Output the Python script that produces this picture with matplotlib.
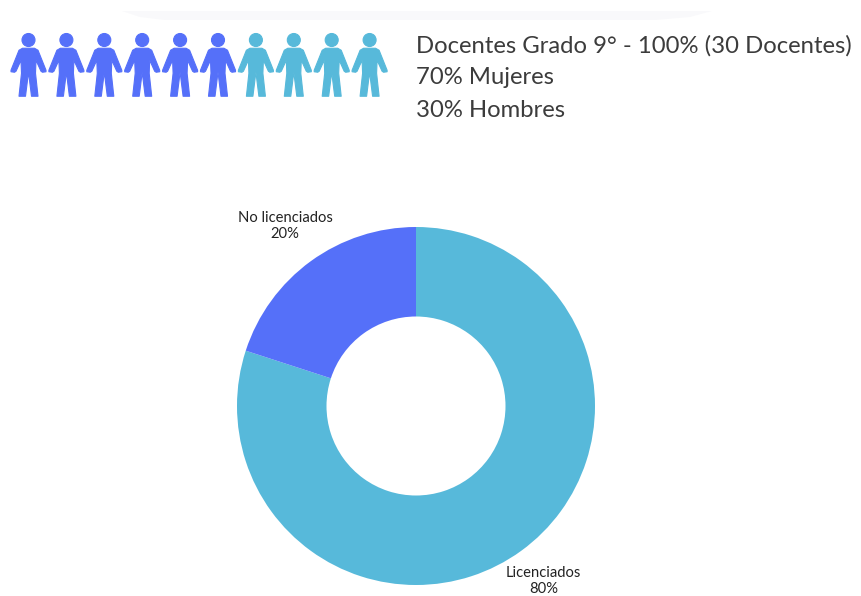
import matplotlib
matplotlib.use("Agg")
import matplotlib.pyplot as plt
import numpy as np
from matplotlib.path import Path

categorias = ["Licenciados", "No licenciados"]
porcentajes = [80, 20]
iconos_azules = 6
iconos_celestes = 4
lineas = ["Docentes Grado 9° - 100% (30 Docentes)", "70% Mujeres", "30% Hombres"]

azul = "#5570F9"
celeste = "#57B9DA"
plt.rcParams["font.family"] = ["Lato", "DejaVu Sans"]

fig = plt.figure(figsize=(8.62, 5.96), dpi=100)

# capa de fondo en pixeles
ax = fig.add_axes([0, 0, 1, 1])
ax.set_xlim(0, 862)
ax.set_ylim(596, 0)
ax.axis("off")

# franja tenue arriba
ax.fill([122, 712, 690, 655, 165, 140], [11, 11, 17, 20, 20, 17], color="#F9F9FB", lw=0)

# figura de persona, origen al centro, y hacia arriba
cuerpo = np.array([
    (-6, 17), (6, 17), (9.5, 15), (17.5, -5), (17.5, -6.5), (14, -7), (12.5, -6),
    (7.5, 5), (7, -8), (9.5, -31), (3, -31), (0, -7), (-3, -31), (-9.5, -31),
    (-7, -8), (-7.5, 5), (-12.5, -6), (-14, -7), (-17.5, -6.5), (-17.5, -5), (-9.5, 15), (-6, 17),
])
cabeza = Path.circle((0, 25.25), 6.5)
persona = Path.make_compound_path(cabeza, Path(cuerpo, closed=True))

n = iconos_azules + iconos_celestes
xs = 28.5 + 37.9 * np.arange(n)
colores = [azul] * iconos_azules + [celeste] * iconos_celestes
ax.scatter(xs, [65.25] * n, marker=persona, s=2090, c=colores, edgecolors=colores, linewidths=0.8)

for i, linea in enumerate(lineas):
    ax.text(416, 45.5 + i * 32.5, linea, fontsize=17.2, color="#3C3C3C", va="center", ha="left")

# anillo
ax_pie = fig.add_axes([(416 - 179) / 862, (596 - 406 - 179) / 596, 358 / 862, 358 / 596])
wedges, textos = ax_pie.pie(
    porcentajes,
    colors=[celeste, azul],
    startangle=90,
    counterclock=False,
    radius=1,
    labels=[f"{c}\n{p}%" for c, p in zip(categorias, porcentajes)],
    labeldistance=1.21,
    wedgeprops={"width": 0.5, "linewidth": 0},
    textprops={"fontsize": 10.6, "color": "#222222", "linespacing": 1.2},
)
for t in textos:
    t.set_ha("center")
    t.set_va("center")
# la etiqueta de arriba queda un poco mas lejos
x0, y0 = textos[1].get_position()
textos[1].set_position((x0 * 1.028, y0 * 1.028))
ax_pie.set_xlim(-1, 1)
ax_pie.set_ylim(-1, 1)

fig.savefig("out.png", dpi=100)
